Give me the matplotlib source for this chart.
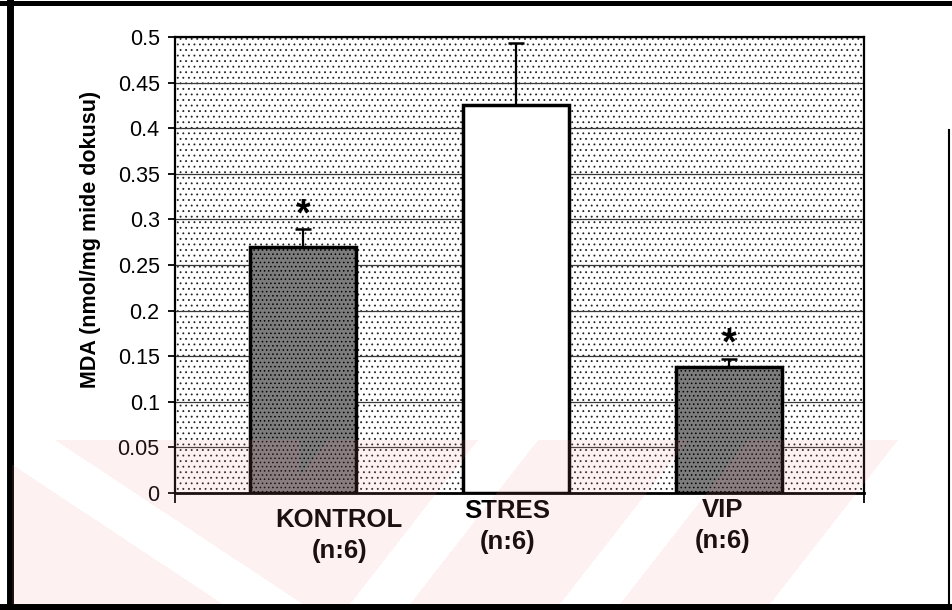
import matplotlib.pyplot as plt
import numpy as np
from matplotlib.lines import Line2D
from matplotlib.patches import Rectangle


gruplar = ["KONTROL", "STRES", "VIP"]
n_sayisi = ["(n:6)", "(n:6)", "(n:6)"]
mda = [0.27, 0.425, 0.138]
hata = [0.019, 0.068, 0.009]
anlamli = [True, False, True]
y_tikler = [0, 0.05, 0.1, 0.15, 0.2, 0.25, 0.3, 0.35, 0.4, 0.45, 0.5]
y_etiketler = ["0", "0.05", "0.1", "0.15", "0.2", "0.25", "0.3", "0.35", "0.4", "0.45", "0.5"]

# grup etiketlerinin yerlesimi (x kaymasi, eksen kesri cinsinden ust kenar)
etiket_kayma = [0.17, -0.04, -0.03]
etiket_ust = [-0.033, -0.014, -0.011]

plt.rcParams["font.family"] = ["Liberation Sans", "DejaVu Sans"]
plt.rcParams["hatch.linewidth"] = 0.6


def filigran(fig):
    """Alt kisimdaki soluk pembe seritleri ekler."""
    yuk, gen = 610, 952
    yy, xx = np.mgrid[0:yuk, 0:gen].astype(float)
    bant = (yy >= 440) & (yy <= 603) & (xx >= 12) & (xx + 1.0 * (yy - 449) <= 923)
    sol = xx - 1.51 * (yy - 463)
    beyaz_sol = (sol >= 10) & (sol <= 90) & (xx < 320)
    sag = xx + 0.78 * (yy - 603)
    beyaz_sag = (xx >= 300) & (((sag - 350) % 210) < 60)
    maske = bant & ~beyaz_sol & ~beyaz_sag
    resim = np.zeros((yuk, gen, 4))
    resim[..., 0] = 240 / 255
    resim[..., 1] = 140 / 255
    resim[..., 2] = 152 / 255
    resim[..., 3] = np.where(maske, 0.12, 0.0)
    fig.figimage(resim, xo=0, yo=0, origin="upper", zorder=10)


def cerceve(fig):
    """Sayfa kenarindaki kalin siyah cerceveyi cizer."""
    fig.add_artist(Line2D([10 / 952, 10 / 952], [0, 1], color="black", lw=5))
    fig.add_artist(Line2D([0, 1], [1 - 2.5 / 610, 1 - 2.5 / 610], color="black", lw=3.6))
    fig.add_artist(Line2D([0, 1], [1 - 606.5 / 610, 1 - 606.5 / 610], color="black", lw=5))
    fig.add_artist(Line2D([949 / 952, 949 / 952], [0, 1 - 130 / 610], color="black", lw=1.5))


def grafik():
    fig = plt.figure(figsize=(9.52, 6.10), dpi=100)
    ax = fig.add_axes([175 / 952, 1 - 493 / 610, (864 - 175) / 952, (493 - 37) / 610])

    # noktali arka plan
    ax.add_patch(Rectangle((0, 0), 1, 1, transform=ax.transAxes, facecolor="white",
                           edgecolor="#222222", hatch="...", lw=0, zorder=0.2))

    x = np.arange(len(gruplar))
    renkler = ["#7c7c7c" if a else "white" for a in anlamli]
    taramalar = ["...." if a else "" for a in anlamli]
    cubuklar = ax.bar(x, mda, width=0.5, color=renkler, edgecolor="black", lw=2.5, zorder=2)
    for c, t in zip(cubuklar, taramalar):
        c.set_hatch(t)

    ax.errorbar(x, mda, yerr=[np.zeros(len(hata)), hata], fmt="none", ecolor="black",
                elinewidth=1.6, capsize=6, capthick=1.8, zorder=3)

    for i, (m, h, a) in enumerate(zip(mda, hata, anlamli)):
        if a:
            ax.annotate("*", xy=(i, m + h), xytext=(0, 3), textcoords="offset points",
                        ha="center", va="baseline", fontsize=27, fontweight="bold")

    ax.set_xlim(-0.601, 2.634)
    ax.set_ylim(0, 0.5)
    ax.set_yticks(y_tikler)
    ax.set_yticklabels(y_etiketler, fontsize=15.5)
    ax.set_xticks([-0.601, 2.634])
    ax.set_xticklabels(["", ""])
    ax.tick_params(axis="y", direction="out", length=5, width=1.3, pad=6)
    ax.tick_params(axis="x", direction="out", length=7, width=1.3)

    ax.yaxis.grid(True, color="#3a3a3a", lw=0.9)
    ax.set_axisbelow(True)
    for s in ax.spines.values():
        s.set_linewidth(1.6)
        s.set_color("black")
    ax.spines["bottom"].set_linewidth(2)

    ax.set_ylabel("MDA (nmol/mg mide dokusu)", fontsize=15.5, fontweight="bold")
    ax.yaxis.set_label_coords(-0.107, 0.557)

    for i, (g, n) in enumerate(zip(gruplar, n_sayisi)):
        ax.text(i + etiket_kayma[i], etiket_ust[i], g + "\n" + n,
                transform=ax.get_xaxis_transform(), ha="center", va="top",
                multialignment="center", fontsize=18.5, fontweight="bold", linespacing=1.35)

    cerceve(fig)
    filigran(fig)
    fig.savefig("out.png", dpi=100)
    plt.close(fig)


if __name__ == "__main__":
    grafik()
